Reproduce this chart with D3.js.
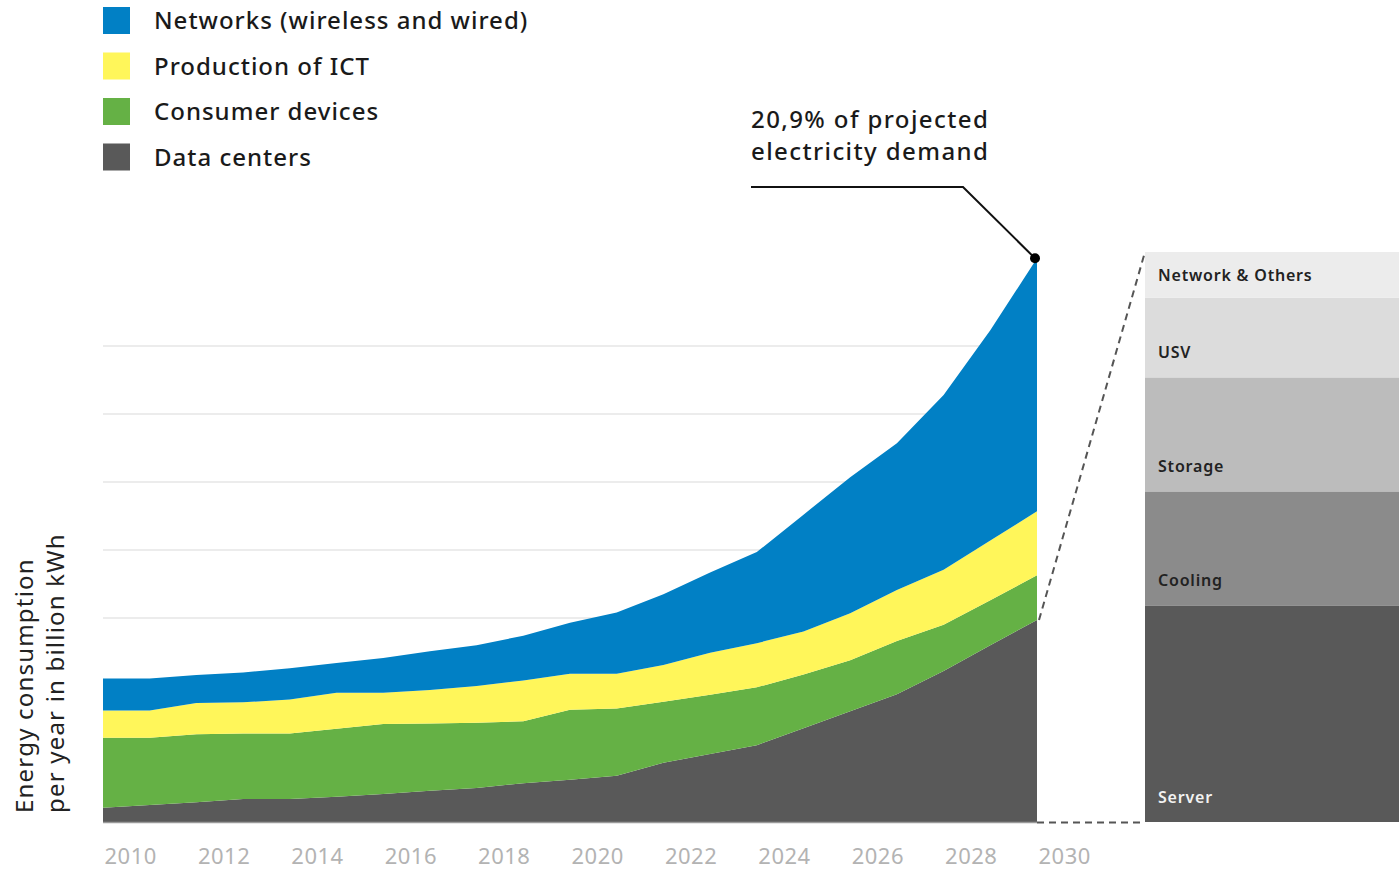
<!DOCTYPE html>
<html>
<head>
<meta charset="utf-8">
<script src="https://cdn.jsdelivr.net/npm/d3@7"></script>
<style>
  body { margin: 0; background: #fff; }
  text { font-family: "Noto Sans", "Open Sans", sans-serif; }
</style>
</head>
<body>
<div id="chart"></div>
<script>
// chart data (billion kWh, arbitrary grid step of 100)
var years = [2010, 2011, 2012, 2013, 2014, 2015, 2016, 2017, 2018, 2019, 2020,
             2021, 2022, 2023, 2024, 2025, 2026, 2027, 2028, 2029, 2030];
var dataCenters     = [21, 25, 29, 34, 34, 37, 41, 46, 50, 57, 62, 68, 87, 100, 113, 138, 163, 188, 222, 260, 297];
var consumerDevices = [103, 99, 100, 96, 96, 100, 103, 99, 96, 91, 103, 99, 90, 87, 85, 79, 75, 78, 68, 66, 66];
var productionICT   = [40, 40, 46, 46, 50, 53, 46, 49, 54, 60, 53, 51, 54, 62, 65, 63, 69, 75, 81, 88, 94];
var networks        = [47, 47, 41, 44, 46, 44, 51, 57, 60, 66, 75, 90, 104, 118, 134, 172, 200, 216, 257, 309, 372];

var seriesNames = ["Networks (wireless and wired)", "Production of ICT", "Consumer devices", "Data centers"];
var seriesKeys = ["networks", "production", "consumer", "datacenters"];
var seriesColors = ["#0180c5", "#fff65a", "#65b145", "#595959"];

var gridValues = [100, 200, 300, 400, 500, 600, 700];
var tickYears = [2010, 2012, 2014, 2016, 2018, 2020, 2022, 2024, 2026, 2028, 2030];

// data center breakdown (share in %), bottom to top
var breakdownNames = ["Server", "Cooling", "Storage", "USV", "Network & Others"];
var breakdownShares = [38, 20, 20, 14, 8];
var breakdownColors = ["#595959", "#8b8b8b", "#bcbcbc", "#dcdcdc", "#ececec"];
var breakdownLabelColors = ["#f2f2f2", "#222", "#222", "#222", "#222"];

var svgWidth = 1399;
var svgHeight = 870;

var svg = d3.select("#chart")
  .append("svg")
  .attr("width", svgWidth)
  .attr("height", svgHeight);

var xScale = d3.scaleLinear()
  .domain([2010, 2030])
  .range([103, 1037]);

var yScale = d3.scaleLinear()
  .domain([0, 800])
  .range([822, 278]);

// gridlines
svg.append("g")
  .selectAll("line")
  .data(gridValues)
  .enter()
  .append("line")
  .attr("x1", xScale(2010))
  .attr("x2", xScale(2030))
  .attr("y1", d => yScale(d))
  .attr("y2", d => yScale(d))
  .attr("stroke", "#d9d9d9")
  .attr("stroke-width", 1.2);

// stacked areas
var table = years.map(function(y, i) {
  return {
    year: y,
    datacenters: dataCenters[i],
    consumer: consumerDevices[i],
    production: productionICT[i],
    networks: networks[i]
  };
});

var stack = d3.stack().keys(seriesKeys.slice().reverse());
var layers = stack(table);

var area = d3.area()
  .x(d => xScale(d.data.year))
  .y0(d => yScale(d[0]))
  .y1(d => yScale(d[1]));

svg.append("g")
  .selectAll("path")
  .data(layers)
  .enter()
  .append("path")
  .attr("d", area)
  .attr("fill", d => seriesColors[seriesKeys.indexOf(d.key)]);

// baseline
svg.append("line")
  .attr("x1", xScale(2010))
  .attr("x2", xScale(2030))
  .attr("y1", yScale(0) + 0.5)
  .attr("y2", yScale(0) + 0.5)
  .attr("stroke", "#9a9a9a")
  .attr("stroke-width", 1.5);

// x axis
var xAxis = d3.axisBottom(xScale)
  .tickValues(tickYears)
  .tickFormat(d3.format("d"))
  .tickSize(0);

var xg = svg.append("g")
  .attr("transform", `translate(0, ${yScale(0)})`)
  .call(xAxis);
xg.select(".domain").remove();
xg.selectAll("text")
  .attr("text-anchor", "start")
  .attr("dy", null)
  .attr("y", 42)
  .attr("x", 1)
  .attr("fill", "#b3b3b3")
  .attr("font-size", "22px")
  .attr("letter-spacing", "0.5px")
  .style("font-family", "'Noto Sans', sans-serif");

// y axis label
var yLabel = svg.append("text")
  .attr("transform", "translate(33, 813) rotate(-90)")
  .attr("font-size", "24px")
  .attr("letter-spacing", "1.2px")
  .attr("fill", "#222");
yLabel.append("tspan").attr("x", 0).attr("y", 0).text("Energy consumption");
yLabel.append("tspan").attr("x", 0).attr("y", 31).text("per year in billion kWh");

// legend
var legend = svg.append("g")
  .selectAll("g")
  .data(seriesNames)
  .enter()
  .append("g")
  .attr("transform", (d, i) => `translate(103, ${7 + i * 45.5})`);

legend.append("rect")
  .attr("width", 27)
  .attr("height", 27)
  .attr("fill", (d, i) => seriesColors[i]);

legend.append("text")
  .attr("x", 51)
  .attr("y", 22)
  .attr("font-size", "24px")
  .attr("font-weight", 500)
  .attr("letter-spacing", "1px")
  .attr("fill", "#1a1a1a")
  .text(d => d);

// breakdown bar
var bScale = d3.scaleLinear()
  .domain([0, 100])
  .range([822, 252]);

var cum = d3.cumsum(breakdownShares);
var bars = breakdownShares.map(function(v, i) {
  return { name: breakdownNames[i], start: cum[i] - v, end: cum[i], i: i };
});

svg.append("g")
  .selectAll("rect")
  .data(bars)
  .enter()
  .append("rect")
  .attr("x", 1145)
  .attr("width", 1399 - 1145)
  .attr("y", d => bScale(d.end))
  .attr("height", d => bScale(d.start) - bScale(d.end))
  .attr("fill", d => breakdownColors[d.i]);

svg.append("g")
  .selectAll("text")
  .data(bars)
  .enter()
  .append("text")
  .attr("x", 1158)
  .attr("y", d => d.i === 4 ? (bScale(d.end) + bScale(d.start)) / 2 + 6 : bScale(d.start) - 19)
  .attr("font-size", "16px")
  .attr("font-weight", 600)
  .attr("letter-spacing", "0.8px")
  .attr("fill", d => breakdownLabelColors[d.i])
  .text(d => d.name);

// dashed connectors
var dcTop = yScale(dataCenters[dataCenters.length - 1]);
svg.append("line")
  .attr("x1", xScale(2030) + 2)
  .attr("y1", dcTop)
  .attr("x2", 1145)
  .attr("y2", bScale(100))
  .attr("stroke", "#555")
  .attr("stroke-width", 2)
  .attr("stroke-dasharray", "7,5");

svg.append("line")
  .attr("x1", xScale(2030))
  .attr("y1", yScale(0) + 0.5)
  .attr("x2", 1145)
  .attr("y2", yScale(0) + 0.5)
  .attr("stroke", "#555")
  .attr("stroke-width", 2)
  .attr("stroke-dasharray", "7,5");

// annotation
var total2030 = dataCenters[20] + consumerDevices[20] + productionICT[20] + networks[20];
var dotX = xScale(2030) - 2;
var dotY = yScale(total2030);

svg.append("polyline")
  .attr("points", `751,187 963,187 ${dotX},${dotY}`)
  .attr("fill", "none")
  .attr("stroke", "#111")
  .attr("stroke-width", 2);

svg.append("circle")
  .attr("cx", dotX)
  .attr("cy", dotY)
  .attr("r", 5)
  .attr("fill", "#000");

var note = svg.append("text")
  .attr("font-size", "24px")
  .attr("font-weight", 500)
  .attr("letter-spacing", "1.4px")
  .attr("fill", "#1a1a1a");
note.append("tspan").attr("x", 751).attr("y", 128).text("20,9% of projected");
note.append("tspan").attr("x", 751).attr("y", 160).text("electricity demand");
</script>
</body>
</html>
